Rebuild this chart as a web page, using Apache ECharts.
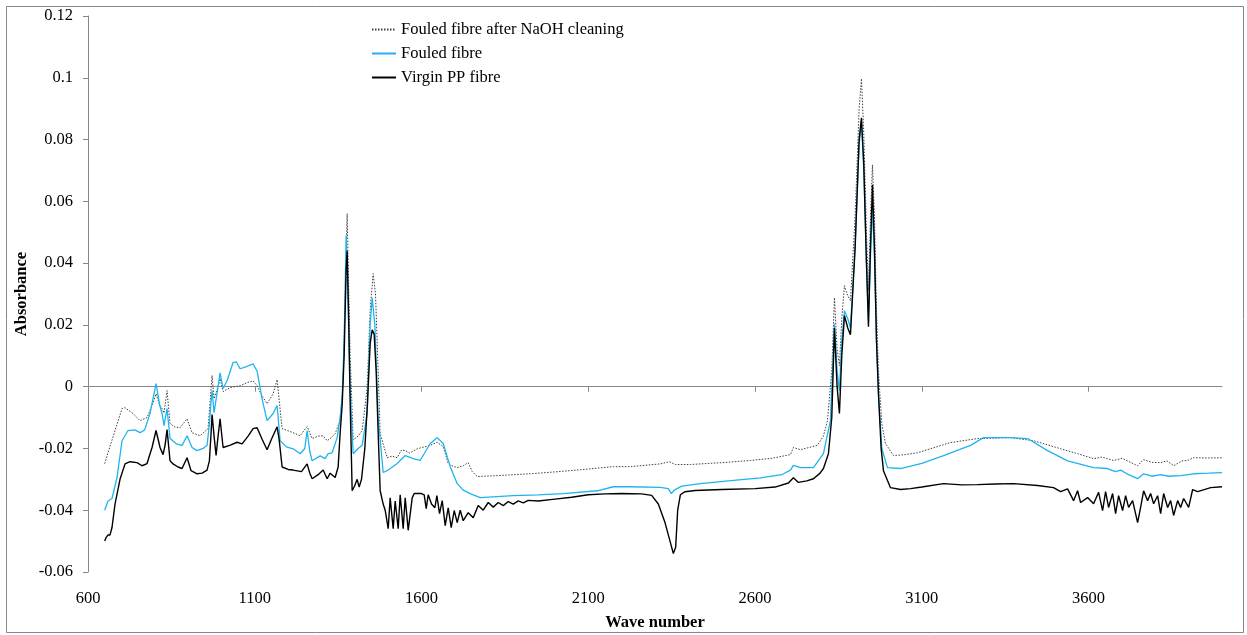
<!DOCTYPE html>
<html>
<head>
<meta charset="utf-8">
<script src="https://cdn.jsdelivr.net/npm/echarts@6/dist/echarts.min.js"></script>
<style>
html,body{margin:0;padding:0;background:#fff;}
#c{width:1247px;height:635px;}
</style>
</head>
<body>
<div id="c"></div>
<script>
const seriesNames = ['Fouled fibre after NaOH cleaning', 'Fouled fibre', 'Virgin PP fibre'];
const xTickValues = [600, 1100, 1600, 2100, 2600, 3100, 3600];

const fouledAfterNaOH = [[650,-0.0249],[660,-0.0214],[681,-0.0142],[702,-0.0071],[711,-0.0068],[735,-0.0087],[756,-0.0110],[777,-0.0100],[795,-0.0052],[804,-0.0023],[815,-0.0060],[822,-0.0071],[828,-0.0085],[837,-0.0013],[846,-0.0120],[860,-0.0130],[876,-0.0133],[897,-0.0104],[912,-0.0149],[936,-0.0159],[960,-0.0136],[966,-0.0050],[972,0.0036],[978,-0.0039],[981,-0.0039],[990,0.0000],[996,0.0026],[1005,-0.0016],[1026,-0.0003],[1056,0.0003],[1077,0.0013],[1095,0.0019],[1107,0.0003],[1122,-0.0030],[1137,-0.0055],[1155,-0.0023],[1167,0.0023],[1182,-0.0136],[1215,-0.0149],[1236,-0.0159],[1257,-0.0129],[1272,-0.0168],[1290,-0.0160],[1305,-0.0159],[1317,-0.0175],[1330,-0.0165],[1341,-0.0152],[1356,-0.0110],[1365,0.0019],[1371,0.0300],[1377,0.0560],[1381,0.0350],[1386,0.0100],[1395,-0.0172],[1410,-0.0160],[1422,-0.0142],[1437,-0.0003],[1446,0.0250],[1455,0.0366],[1462,0.0300],[1470,0.0050],[1476,-0.0152],[1497,-0.0230],[1512,-0.0225],[1527,-0.0230],[1540,-0.0205],[1551,-0.0207],[1565,-0.0215],[1587,-0.0201],[1626,-0.0190],[1647,-0.0180],[1665,-0.0194],[1680,-0.0249],[1695,-0.0258],[1707,-0.0262],[1725,-0.0256],[1740,-0.0246],[1752,-0.0275],[1767,-0.0291],[1827,-0.0288],[1926,-0.0282],[2000,-0.0276],[2076,-0.0269],[2175,-0.0259],[2226,-0.0259],[2316,-0.0250],[2343,-0.0243],[2361,-0.0252],[2406,-0.0252],[2500,-0.0246],[2586,-0.0239],[2650,-0.0232],[2706,-0.0220],[2715,-0.0197],[2736,-0.0204],[2787,-0.0190],[2805,-0.0160],[2817,-0.0110],[2830,0.0050],[2838,0.0288],[2846,0.0120],[2853,0.0068],[2860,0.0220],[2868,0.0327],[2876,0.0300],[2886,0.0278],[2900,0.0550],[2912,0.0900],[2919,0.0997],[2926,0.0820],[2934,0.0500],[2940,0.0310],[2946,0.0550],[2952,0.0718],[2958,0.0550],[2964,0.0250],[2970,0.0050],[2980,-0.0120],[2991,-0.0184],[3015,-0.0223],[3050,-0.0220],[3087,-0.0214],[3186,-0.0181],[3267,-0.0168],[3366,-0.0165],[3435,-0.0175],[3516,-0.0201],[3567,-0.0217],[3615,-0.0233],[3640,-0.0228],[3675,-0.0239],[3700,-0.0232],[3747,-0.0256],[3765,-0.0236],[3790,-0.0245],[3816,-0.0246],[3835,-0.0240],[3855,-0.0256],[3880,-0.0240],[3897,-0.0239],[3915,-0.0230],[3960,-0.0231],[4000,-0.0230]];

const fouledFibre = [[650,-0.0400],[660,-0.0370],[672,-0.0362],[687,-0.0294],[702,-0.0175],[720,-0.0142],[740,-0.0140],[756,-0.0149],[770,-0.0140],[786,-0.0087],[804,0.0010],[815,-0.0060],[822,-0.0087],[828,-0.0126],[837,-0.0071],[846,-0.0168],[865,-0.0185],[882,-0.0190],[897,-0.0159],[912,-0.0197],[927,-0.0207],[945,-0.0200],[957,-0.0190],[964,-0.0120],[968,-0.0060],[972,-0.0013],[978,-0.0084],[981,-0.0084],[990,0.0000],[996,0.0045],[1005,-0.0006],[1017,0.0019],[1035,0.0078],[1045,0.0080],[1056,0.0058],[1075,0.0065],[1095,0.0074],[1107,0.0050],[1122,-0.0040],[1137,-0.0110],[1155,-0.0087],[1167,-0.0061],[1176,-0.0175],[1195,-0.0195],[1215,-0.0201],[1236,-0.0217],[1250,-0.0200],[1257,-0.0142],[1265,-0.0210],[1272,-0.0240],[1296,-0.0224],[1311,-0.0233],[1320,-0.0217],[1332,-0.0214],[1347,-0.0165],[1356,-0.0100],[1362,-0.0036],[1368,0.0150],[1374,0.0489],[1379,0.0300],[1386,0.0000],[1395,-0.0217],[1410,-0.0200],[1422,-0.0190],[1437,-0.0087],[1446,0.0200],[1452,0.0288],[1460,0.0200],[1470,-0.0100],[1485,-0.0278],[1500,-0.0270],[1527,-0.0249],[1551,-0.0223],[1575,-0.0233],[1596,-0.0239],[1626,-0.0184],[1647,-0.0165],[1665,-0.0184],[1686,-0.0259],[1707,-0.0314],[1725,-0.0335],[1746,-0.0346],[1776,-0.0359],[1875,-0.0353],[1950,-0.0350],[2025,-0.0346],[2127,-0.0337],[2175,-0.0324],[2226,-0.0324],[2316,-0.0326],[2340,-0.0330],[2349,-0.0346],[2358,-0.0335],[2380,-0.0322],[2436,-0.0314],[2520,-0.0305],[2616,-0.0295],[2680,-0.0285],[2706,-0.0270],[2715,-0.0255],[2736,-0.0262],[2775,-0.0262],[2805,-0.0217],[2826,-0.0110],[2838,0.0204],[2846,0.0050],[2853,-0.0013],[2860,0.0150],[2868,0.0246],[2878,0.0220],[2886,0.0190],[2900,0.0450],[2912,0.0780],[2919,0.0860],[2926,0.0700],[2934,0.0400],[2940,0.0214],[2946,0.0420],[2952,0.0586],[2958,0.0420],[2964,0.0150],[2970,-0.0023],[2980,-0.0200],[2997,-0.0262],[3036,-0.0265],[3100,-0.0248],[3165,-0.0223],[3246,-0.0190],[3285,-0.0165],[3366,-0.0165],[3417,-0.0168],[3477,-0.0207],[3537,-0.0240],[3615,-0.0262],[3657,-0.0265],[3680,-0.0275],[3696,-0.0270],[3720,-0.0285],[3747,-0.0298],[3765,-0.0282],[3790,-0.0290],[3816,-0.0285],[3840,-0.0290],[3876,-0.0288],[3915,-0.0282],[3960,-0.0280],[4000,-0.0278]];

const virginPPFibre = [[650,-0.0500],[654,-0.0489],[660,-0.0480],[666,-0.0480],[672,-0.0456],[681,-0.0380],[696,-0.0300],[711,-0.0250],[726,-0.0243],[747,-0.0246],[762,-0.0256],[777,-0.0249],[792,-0.0197],[804,-0.0142],[816,-0.0197],[825,-0.0220],[831,-0.0190],[837,-0.0139],[846,-0.0240],[855,-0.0250],[870,-0.0260],[882,-0.0265],[897,-0.0230],[909,-0.0272],[927,-0.0282],[942,-0.0280],[957,-0.0270],[964,-0.0240],[969,-0.0150],[972,-0.0090],[978,-0.0160],[984,-0.0223],[990,-0.0160],[996,-0.0104],[1005,-0.0197],[1025,-0.0190],[1047,-0.0180],[1062,-0.0185],[1080,-0.0160],[1095,-0.0136],[1107,-0.0133],[1122,-0.0170],[1137,-0.0204],[1150,-0.0170],[1167,-0.0130],[1173,-0.0170],[1182,-0.0260],[1200,-0.0268],[1215,-0.0270],[1240,-0.0275],[1257,-0.0250],[1265,-0.0280],[1272,-0.0298],[1290,-0.0285],[1305,-0.0270],[1317,-0.0298],[1326,-0.0280],[1341,-0.0294],[1350,-0.0260],[1356,-0.0150],[1362,-0.0060],[1368,0.0100],[1374,0.0380],[1377,0.0440],[1381,0.0250],[1386,-0.0050],[1392,-0.0337],[1400,-0.0320],[1407,-0.0300],[1413,-0.0325],[1420,-0.0300],[1430,-0.0200],[1438,-0.0050],[1446,0.0140],[1452,0.0184],[1458,0.0170],[1464,0.0050],[1470,-0.0150],[1476,-0.0337],[1485,-0.0380],[1491,-0.0400],[1500,-0.0460],[1506,-0.0360],[1515,-0.0460],[1521,-0.0370],[1530,-0.0460],[1536,-0.0350],[1545,-0.0460],[1551,-0.0360],[1560,-0.0465],[1572,-0.0360],[1578,-0.0346],[1600,-0.0346],[1608,-0.0350],[1614,-0.0395],[1620,-0.0350],[1630,-0.0380],[1640,-0.0392],[1646,-0.0353],[1654,-0.0411],[1662,-0.0369],[1671,-0.0450],[1680,-0.0392],[1689,-0.0456],[1698,-0.0401],[1707,-0.0440],[1716,-0.0400],[1725,-0.0434],[1740,-0.0408],[1755,-0.0424],[1770,-0.0385],[1785,-0.0400],[1800,-0.0375],[1815,-0.0390],[1830,-0.0375],[1845,-0.0385],[1860,-0.0372],[1875,-0.0380],[1890,-0.0370],[1905,-0.0376],[1920,-0.0368],[1950,-0.0370],[2000,-0.0364],[2050,-0.0358],[2100,-0.0350],[2150,-0.0347],[2200,-0.0346],[2260,-0.0347],[2290,-0.0352],[2310,-0.0380],[2330,-0.0440],[2345,-0.0500],[2355,-0.0540],[2362,-0.0520],[2368,-0.0400],[2376,-0.0350],[2390,-0.0340],[2420,-0.0336],[2500,-0.0333],[2600,-0.0330],[2660,-0.0325],[2700,-0.0312],[2715,-0.0295],[2730,-0.0310],[2755,-0.0305],[2775,-0.0298],[2795,-0.0280],[2805,-0.0265],[2820,-0.0217],[2830,-0.0100],[2838,0.0190],[2846,0.0000],[2853,-0.0087],[2860,0.0100],[2868,0.0230],[2878,0.0190],[2886,0.0168],[2900,0.0450],[2912,0.0800],[2919,0.0870],[2926,0.0720],[2934,0.0400],[2940,0.0194],[2946,0.0450],[2952,0.0654],[2958,0.0450],[2964,0.0150],[2970,-0.0023],[2978,-0.0200],[2985,-0.0272],[3006,-0.0327],[3036,-0.0333],[3066,-0.0330],[3100,-0.0325],[3165,-0.0314],[3220,-0.0318],[3267,-0.0317],[3320,-0.0315],[3375,-0.0314],[3447,-0.0320],[3495,-0.0327],[3516,-0.0340],[3537,-0.0331],[3555,-0.0369],[3567,-0.0337],[3576,-0.0375],[3597,-0.0359],[3615,-0.0379],[3630,-0.0342],[3642,-0.0401],[3651,-0.0340],[3660,-0.0391],[3672,-0.0346],[3681,-0.0411],[3690,-0.0353],[3702,-0.0401],[3711,-0.0353],[3720,-0.0391],[3732,-0.0369],[3747,-0.0440],[3756,-0.0391],[3765,-0.0337],[3777,-0.0369],[3786,-0.0346],[3795,-0.0379],[3807,-0.0353],[3816,-0.0411],[3825,-0.0346],[3837,-0.0391],[3846,-0.0369],[3855,-0.0417],[3867,-0.0369],[3876,-0.0391],[3885,-0.0362],[3900,-0.0391],[3912,-0.0333],[3927,-0.0340],[3966,-0.0327],[4000,-0.0324]];

const axisGray = '#868686';
const fontFam = '"Liberation Serif", "Times New Roman", serif';
const fs = 16.5;

const chart = echarts.init(document.getElementById('c'), null, {renderer: 'canvas'});
chart.setOption({
  animation: false,
  backgroundColor: '#fff',
  textStyle: {fontFamily: fontFam},
  graphic: [{
    type: 'rect', shape: {x: 6.5, y: 6.5, width: 1237, height: 626},
    style: {fill: 'none', stroke: axisGray, lineWidth: 1}, silent: true, z: -10
  }],
  legend: {
    orient: 'vertical', left: 366, top: 16,
    itemWidth: 24, itemHeight: 14, itemGap: 7,
    data: seriesNames,
    itemStyle: {opacity: 0, borderWidth: 0},
    textStyle: {fontFamily: fontFam, fontSize: fs, color: '#000', lineHeight: 17}
  },
  grid: {left: 88, right: 25, top: 16, bottom: 63, outerBoundsMode: 'none'},
  xAxis: [{
    type: 'value', min: 600, max: 4000,
    axisLine: {onZero: true, lineStyle: {color: axisGray, width: 1}},
    axisTick: {show: true, length: 5, lineStyle: {color: axisGray}, customValues: xTickValues},
    axisLabel: {show: false},
    splitLine: {show: false}
  }, {
    type: 'value', min: 600, max: 4000, position: 'bottom',
    axisLine: {show: false, onZero: false},
    axisTick: {show: false},
    axisLabel: {show: true, customValues: xTickValues, margin: 18, color: '#000', fontSize: fs, fontFamily: fontFam,
      formatter: v => String(v)},
    splitLine: {show: false},
    name: 'Wave number', nameLocation: 'middle', nameGap: 42, nameMoveOverlap: false,
    nameTextStyle: {fontFamily: fontFam, fontSize: fs, fontWeight: 'bold', color: '#000'}
  }],
  yAxis: {
    type: 'value', min: -0.06, max: 0.12, interval: 0.02,
    axisLine: {show: true, lineStyle: {color: axisGray, width: 1}},
    axisTick: {show: true, length: 5, lineStyle: {color: axisGray}},
    axisLabel: {margin: 15, color: '#000', fontSize: fs, fontFamily: fontFam,
      formatter: v => String(Math.round(v * 1000) / 1000)},
    splitLine: {show: false},
    name: 'Absorbance', nameLocation: 'middle', nameGap: 58, nameMoveOverlap: false,
    nameTextStyle: {fontFamily: fontFam, fontSize: fs, fontWeight: 'bold', color: '#000'}
  },
  series: [{
    name: seriesNames[0], type: 'line', xAxisIndex: 0, data: fouledAfterNaOH,
    showSymbol: false, symbol: 'none',
    lineStyle: {color: '#404040', width: 1, type: [1.5, 1.5]},
    itemStyle: {color: '#404040'}
  }, {
    name: seriesNames[1], type: 'line', xAxisIndex: 0, data: fouledFibre,
    showSymbol: false, symbol: 'none',
    lineStyle: {color: '#1EB4EE', width: 1.3},
    itemStyle: {color: '#1EB4EE'}
  }, {
    name: seriesNames[2], type: 'line', xAxisIndex: 0, data: virginPPFibre,
    showSymbol: false, symbol: 'none',
    lineStyle: {color: '#000', width: 1.4},
    itemStyle: {color: '#000'}
  }]
});
</script>
</body>
</html>
